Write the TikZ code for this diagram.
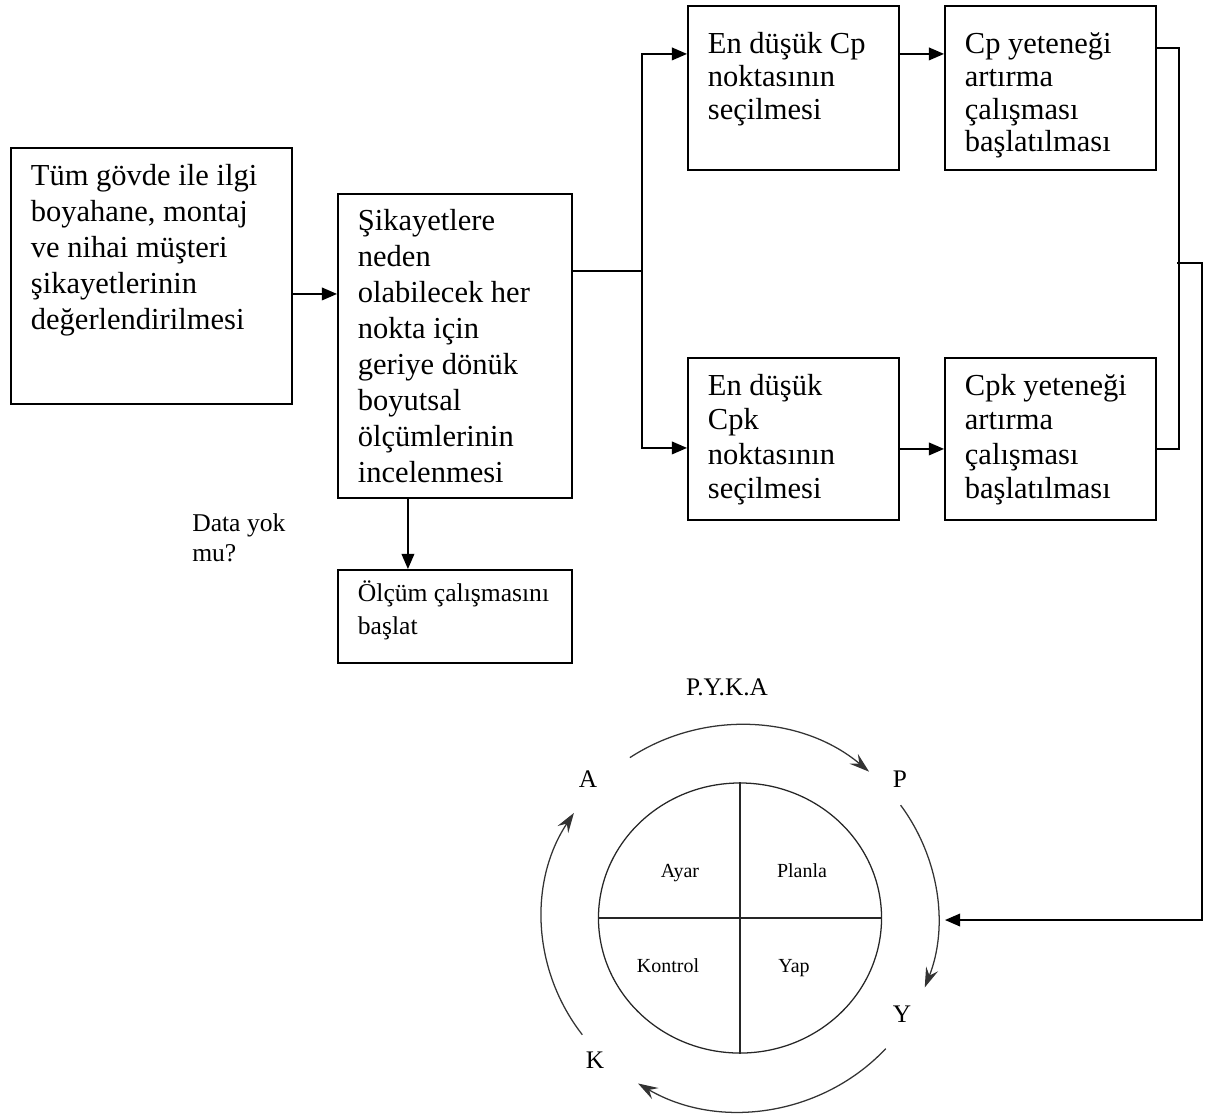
\documentclass[tikz,border=0pt]{standalone}
\usepackage{fontspec}
\setmainfont{Liberation Serif}
\usetikzlibrary{arrows.meta,shapes.geometric}

\newcommand{\buyukyazi}{\fontsize{21.7pt}{25.6pt}\selectfont}
\newcommand{\sagyazi}{\fontsize{21.7pt}{23.2pt}\selectfont}
\newcommand{\altyazi}{\fontsize{21.7pt}{24.2pt}\selectfont}
\newcommand{\kucukyazi}{\fontsize{18.2pt}{23.5pt}\selectfont}
\newcommand{\soruyazi}{\fontsize{18.2pt}{22pt}\selectfont}
\newcommand{\harfyazi}{\fontsize{18pt}{22pt}\selectfont}
\newcommand{\etiketyazi}{\fontsize{14.2pt}{17pt}\selectfont}
\newcommand{\satirlar}[1]{\begin{tabular}[t]{@{}l@{}}#1\end{tabular}}

\tikzset{
	kutu/.style={draw, line width=1.3pt, anchor=north west, inner xsep=0.5cm},
	ok/.style={line width=1pt, -{Triangle[length=0.38cm, width=0.32cm]}},
	cizgi/.style={line width=1pt},
	dongu/.style={line width=0.9pt, draw=black!80, -{Stealth[length=0.5cm, width=0.32cm, inset=0.18cm]}},
}

\begin{document}
\begin{tikzpicture}[x=0.025cm, y=-0.025cm]
	\useasboundingbox (0,0) rectangle (1208,1113);

	% Левая колонка
	\node[kutu, inner ysep=0.32cm, font=\buyukyazi] (b1) at (10,147)
		{\parbox[t][5.76cm][t]{6.025cm}{\satirlar{Tüm gövde ile ilgi\\ boyahane, montaj\\ ve nihai müşteri\\ şikayetlerinin\\ değerlendirilmesi}}};
	\node[kutu, inner ysep=0.295cm, font=\buyukyazi] (b2) at (337,193)
		{\parbox[t][7.01cm][t]{4.85cm}{\satirlar{Şikayetlere\\ neden\\ olabilecek her\\ nokta için\\ geriye dönük\\ boyutsal\\ ölçümlerinin\\ incelenmesi}}};
	\node[kutu, inner ysep=0.2cm, font=\kucukyazi] (b7) at (337,569)
		{\parbox[t][1.925cm][t]{4.85cm}{\satirlar{Ölçüm çalışmasını\\ başlat}}};
	\node[anchor=base west, inner sep=0pt, font=\soruyazi] (soru) at (192,531) {\satirlar{Data yok\\ mu?}};

	% Правая часть: Cp и Cpk
	\node[kutu, inner ysep=0.63cm, font=\sagyazi] (b3) at (687,5)
		{\parbox[t][2.84cm][t]{4.275cm}{\satirlar{En düşük Cp\\ noktasının\\ seçilmesi}}};
	\node[kutu, inner ysep=0.63cm, font=\sagyazi] (b4) at (944,5)
		{\parbox[t][2.84cm][t]{4.275cm}{\satirlar{Cp yeteneği\\ artırma\\ çalışması\\ başlatılması}}};
	\node[kutu, inner ysep=0.355cm, font=\altyazi] (b5) at (687,357)
		{\parbox[t][3.34cm][t]{4.275cm}{\satirlar{En düşük\\ Cpk\\ noktasının\\ seçilmesi}}};
	\node[kutu, inner ysep=0.355cm, font=\altyazi] (b6) at (944,357)
		{\parbox[t][3.34cm][t]{4.275cm}{\satirlar{Cpk yeteneği\\ artırma\\ çalışması\\ başlatılması}}};

	% Стрелки между блоками
	\draw[ok] ([yshift=-0.45cm]b1.east) -- ([yshift=-0.45cm]b1.east -| b2.west);
	\draw[cizgi] ([yshift=1.875cm]b2.east) -- ++(69,0) coordinate (catal);
	\draw[ok] (catal) |- ([yshift=0.85cm]b3.west);
	\draw[ok] (catal) |- ([yshift=-0.225cm]b5.west);
	\draw[ok] ([yshift=0.85cm]b3.east) -- ([yshift=0.85cm]b3.east -| b4.west);
	\draw[ok] ([yshift=-0.25cm]b5.east) -- ([yshift=-0.25cm]b5.east -| b6.west);
	\draw[ok] ([xshift=-1.175cm]b2.south) -- ([xshift=-1.175cm]b2.south |- b7.north);

	% Скобка справа и вход в цикл
	\draw[cizgi] ([yshift=1cm]b4.east) -| ([xshift=0.55cm,yshift=-0.25cm]b6.east) -- ([yshift=-0.25cm]b6.east);
	\coordinate (kol) at (1177,263);
	\coordinate (giris) at (945,920);
	\draw[ok] (kol) -- ++(25,0) |- (giris);

	% Круг P.Y.K.A
	\node[draw=black!85, ellipse, line width=0.9pt, minimum width=7.075cm, minimum height=6.75cm, inner sep=0pt] (daire) at (740,918) {};
	\draw[draw=black!85, line width=0.9pt] (daire.north) -- (daire.south);
	\draw[draw=black!85, line width=0.9pt] (daire.west) -- (daire.east);
	\node[anchor=base, font=\etiketyazi] (ayar) at (680,877) {Ayar};
	\node[anchor=base, font=\etiketyazi] (planla) at (802,877) {Planla};
	\node[anchor=base, font=\etiketyazi] (kontrol) at (668,972) {Kontrol};
	\node[anchor=base, font=\etiketyazi] (yap) at (794,972) {Yap};

	\node[anchor=base, font=\harfyazi] (pyka) at (727,695) {P.Y.K.A};
	\node[anchor=base, font=\harfyazi] (harfA) at (588,787) {A};
	\node[anchor=base, font=\harfyazi] (harfP) at (900,787) {P};
	\node[anchor=base, font=\harfyazi] (harfY) at (902,1022) {Y};
	\node[anchor=base, font=\harfyazi] (harfK) at (595,1068) {K};

	% Дуги со стрелками вокруг круга
	\draw[dongu] (daire.center) ++(-123.8:198 and 193) arc[start angle=-123.8, end angle=-49.3, x radius=198, y radius=193];
	\draw[dongu] (daire.center) ++(-35.8:198 and 193) arc[start angle=-35.8, end angle=21.1, x radius=198, y radius=193];
	\draw[dongu] (daire.center) ++(42.6:198 and 193) arc[start angle=42.6, end angle=121, x radius=198, y radius=193];
	\draw[dongu] (daire.center) ++(142.8:198 and 193) arc[start angle=142.8, end angle=213, x radius=198, y radius=193];
\end{tikzpicture}
\end{document}
